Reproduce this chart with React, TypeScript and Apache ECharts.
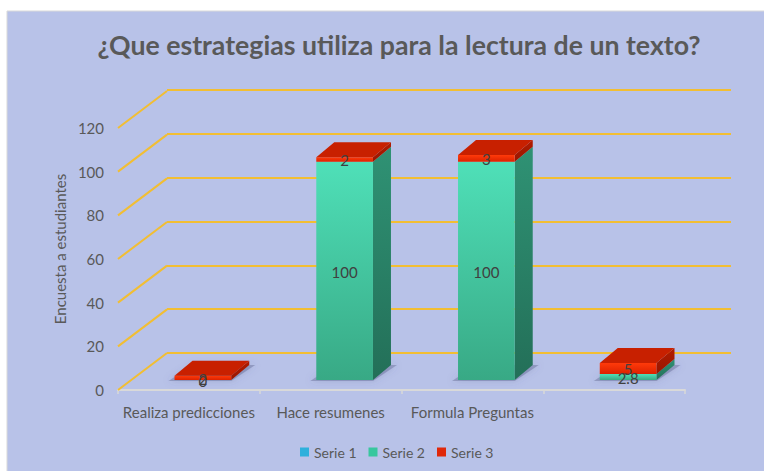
import React, { useEffect, useRef } from "react";
import * as echarts from "echarts";

const categories = ["Realiza predicciones", "Hace resumenes", "Formula Preguntas", ""];
const seriesNames = ["Serie 1", "Serie 2", "Serie 3"];
const serie1 = [0, 0, 0, 0];
const serie2 = [0, 100, 100, 2.8];
const serie3 = [2, 2, 3, 5];
const yTicks = [0, 20, 40, 60, 80, 100, 120];

const FONT = "Lato, 'Open Sans', sans-serif";
const TEXT = "#595959";
const GOLD = "#F2BE32";
const BG = "#B8C2E8";

// projection offsets (pixels)
const WALL_DX = 49;
const WALL_DY = 37;
const BAR_OFF_X = 14;
const BAR_OFF_Y = 10;
const DEPTH_X = 18;
const DEPTH_Y = 15;

type Palette = { front: [string, string]; side: [string, string]; top: string };
const palettes: Palette[] = [
  { front: ["#4CC8F0", "#2A9CCB"], side: ["#207FA8", "#18698C"], top: "#3FB6E0" },
  { front: ["#4FE0B8", "#38A985"], side: ["#2F9274", "#236F58"], top: "#44CFA6" },
  { front: ["#FF3A0A", "#DC2200"], side: ["#B21C00", "#981600"], top: "#C82000" },
];
const legendColors = ["#2EB0DC", "#38C79E", "#E0280A"];

const allSeries = [serie1, serie2, serie3];

function grad(c: [string, string]) {
  return {
    type: "linear",
    x: 0,
    y: 0,
    x2: 0,
    y2: 1,
    colorStops: [
      { offset: 0, color: c[0] },
      { offset: 1, color: c[1] },
    ],
  };
}

function baseOf(k: number, i: number) {
  let s = 0;
  for (let j = 0; j < k; j++) s += allSeries[j][i];
  return s;
}
function isTopOf(k: number, i: number) {
  if (allSeries[k][i] <= 0) return false;
  for (let j = k + 1; j < allSeries.length; j++) if (allSeries[j][i] > 0) return false;
  return true;
}

function barRender(k: number) {
  const pal = palettes[k];
  return (params: any, api: any) => {
    const i = api.value(0);
    const v = api.value(1);
    const base = api.value(2);
    const top = api.value(3) === 1;
    const p0 = api.coord([i, base]);
    const p1 = api.coord([i, base + v]);
    const w = api.size([1, 0])[0] * 0.4;
    const cx = p0[0] + BAR_OFF_X;
    const L = cx - w / 2;
    const R = cx + w / 2;
    const yb = p0[1] - BAR_OFF_Y;
    const yt = p1[1] - BAR_OFF_Y;
    const children: any[] = [];
    if (k === 0) {
      // soft shadow at the foot of each bar
      children.push({
        type: "polygon",
        shape: {
          points: [
            [L - 6, yb + 1],
            [R, yb + 1],
            [R + DEPTH_X + 6, yb - DEPTH_Y],
            [L + DEPTH_X, yb - DEPTH_Y],
          ],
        },
        style: {
          fill: "rgba(80,86,130,0.35)",
          shadowBlur: 7,
          shadowColor: "rgba(80,86,130,0.6)",
        },
        z2: 0,
      });
    }
    if (v > 0) {
      children.push({
        type: "polygon",
        shape: {
          points: [
            [R, yb],
            [R + DEPTH_X, yb - DEPTH_Y],
            [R + DEPTH_X, yt - DEPTH_Y],
            [R, yt],
          ],
        },
        style: { fill: grad(pal.side) },
        z2: 1,
      });
      children.push({
        type: "rect",
        shape: { x: L, y: yt, width: w, height: yb - yt },
        style: { fill: grad(pal.front) },
        z2: 2,
      });
    }
    if (top) {
      children.push({
        type: "polygon",
        shape: {
          points: [
            [L, yt],
            [R, yt],
            [R + DEPTH_X, yt - DEPTH_Y],
            [L + DEPTH_X, yt - DEPTH_Y],
          ],
        },
        style: { fill: pal.top },
        z2: 3,
      });
    }
    return { type: "group", children };
  };
}

function labelRender(params: any, api: any) {
  const i = api.value(0);
  const v = api.value(1);
  const base = api.value(2);
  const p0 = api.coord([i, base]);
  const p1 = api.coord([i, base + v]);
  const cx = p0[0] + BAR_OFF_X;
  const y = (p0[1] + p1[1]) / 2 - BAR_OFF_Y;
  return {
    type: "text",
    style: {
      text: String(v),
      x: cx,
      y: y + 1,
      align: "center",
      verticalAlign: "middle",
      fill: "#404040",
      fontSize: 15,
      fontFamily: FONT,
    },
  };
}

function diagRender(params: any, api: any) {
  const v = api.value(1);
  const p = api.coord([0, v]);
  const x0 = params.coordSys.x;
  return {
    type: "line",
    shape: { x1: x0, y1: p[1], x2: x0 + WALL_DX, y2: p[1] - WALL_DY },
    style: { stroke: GOLD, lineWidth: 2 },
  };
}

export default function App() {
  const ref = useRef<HTMLDivElement>(null);
  useEffect(() => {
    if (!ref.current) return;
    const chart = echarts.init(ref.current, undefined, { renderer: "svg" });

    const barSeries = seriesNames.map((name, k) => ({
      name,
      type: "custom",
      xAxisIndex: 0,
      yAxisIndex: 0,
      clip: false,
      z: 3 + k,
      itemStyle: { color: legendColors[k] },
      encode: { x: 0, y: 1 },
      renderItem: barRender(k),
      data: allSeries[k].map((v, i) => [i, v, baseOf(k, i), isTopOf(k, i) ? 1 : 0]),
    }));

    const labelData: any[] = [];
    [1, 2].forEach((k) => {
      allSeries[k].forEach((v, i) => labelData.push([i, v, baseOf(k, i)]));
    });

    chart.setOption({
      animation: false,
      backgroundColor: "#ffffff",
      graphic: [
        {
          type: "rect",
          z: -10,
          shape: { x: 7, y: 11, width: 800, height: 500 },
          style: { fill: BG, stroke: "#D9D9D9", lineWidth: 1 },
          silent: true,
        },
      ],
      title: {
        text: "¿Que estrategias utiliza para la lectura de un texto?",
        left: 394,
        textAlign: "center",
        top: 26,
        textStyle: { fontFamily: FONT, fontSize: 26.7, fontWeight: "bold", color: TEXT },
      },
      legend: {
        data: seriesNames,
        left: 295,
        top: 440,
        icon: "rect",
        itemWidth: 9,
        itemHeight: 9,
        itemGap: 12,
        textStyle: { fontFamily: FONT, fontSize: 14, color: TEXT },
      },
      grid: [
        { left: 118, right: 79, top: 128, bottom: 81 },
        { left: 167, right: 33, top: 90, bottom: 118 },
      ],
      xAxis: [
        {
          type: "category",
          gridIndex: 0,
          data: categories,
          boundaryGap: true,
          axisLine: { lineStyle: { color: "#D9D9D9", width: 2 } },
          axisTick: { show: true, length: 4, lineStyle: { color: "#D9D9D9", width: 1.5 } },
          axisLabel: { color: TEXT, fontSize: 15, fontFamily: FONT, margin: 14, interval: 0 },
          splitLine: { show: false },
        },
        {
          type: "value",
          gridIndex: 1,
          show: false,
          min: 0,
          max: 1,
        },
      ],
      yAxis: [
        {
          type: "value",
          gridIndex: 0,
          min: 0,
          max: 120,
          interval: 20,
          name: "Encuesta a estudiantes",
          nameLocation: "middle",
          nameRotate: 90,
          nameGap: 48,
          nameTextStyle: { color: TEXT, fontSize: 15, fontFamily: FONT, padding: [0, 0, 0, 20] },
          axisLine: { show: false },
          axisTick: { show: false },
          splitLine: { show: false },
          axisLabel: { color: TEXT, fontSize: 15, fontFamily: FONT, margin: 14 },
        },
        {
          type: "value",
          gridIndex: 1,
          min: 0,
          max: 120,
          interval: 20,
          axisLine: { show: false },
          axisTick: { show: false },
          axisLabel: { show: false },
          splitLine: { show: true, lineStyle: { color: GOLD, width: 2 } },
        },
      ],
      series: [
        {
          name: "walls",
          type: "custom",
          xAxisIndex: 0,
          yAxisIndex: 0,
          clip: false,
          z: 1,
          silent: true,
          encode: { x: 0, y: 1 },
          renderItem: diagRender,
          data: yTicks.map((v) => [0, v]),
        },
        ...barSeries,
        {
          name: "labels",
          type: "custom",
          xAxisIndex: 0,
          yAxisIndex: 0,
          clip: false,
          z: 10,
          silent: true,
          encode: { x: 0, y: 1 },
          renderItem: labelRender,
          data: labelData,
        },
      ],
    });
    return () => chart.dispose();
  }, []);
  return (
    <div
      ref={ref}
      style={{ position: "fixed", left: 0, top: 0, width: 764, height: 471 }}
    />
  );
}
